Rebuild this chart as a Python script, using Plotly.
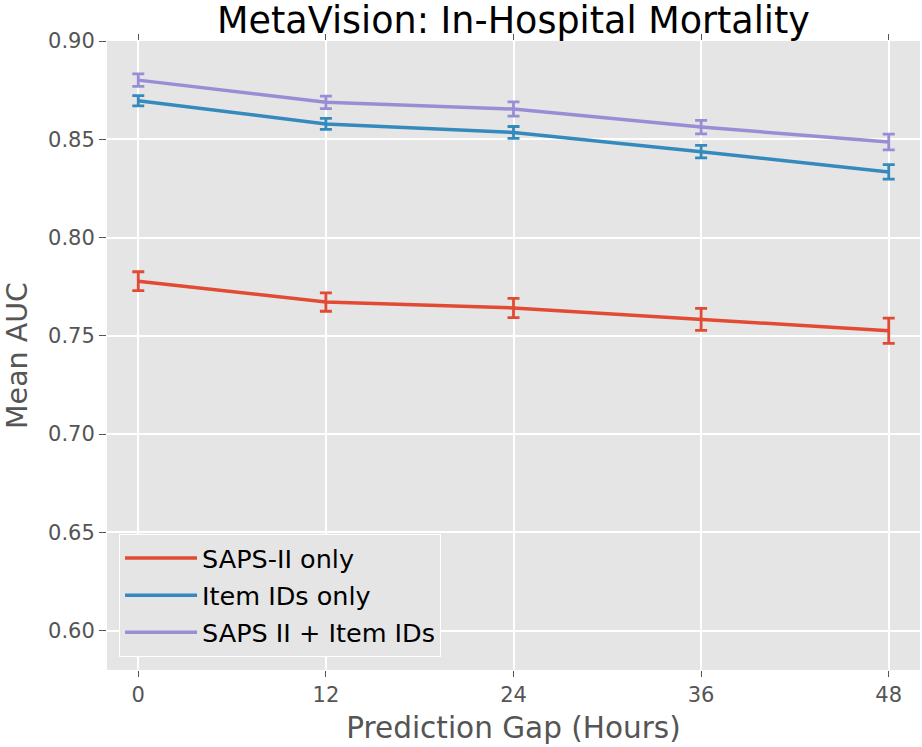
import plotly.graph_objects as go

hours = [0, 12, 24, 36, 48]
saps_only = [0.7778, 0.7672, 0.7642, 0.7584, 0.7526]
saps_only_err = [0.0048, 0.0047, 0.0049, 0.0056, 0.0064]
item_only = [0.8696, 0.8578, 0.8535, 0.8437, 0.8334]
item_only_err = [0.0026, 0.0028, 0.0030, 0.0032, 0.0037]
saps_item = [0.8801, 0.8688, 0.8654, 0.8562, 0.8486]
saps_item_err = [0.0032, 0.0032, 0.0036, 0.0034, 0.0040]

series = [
    ("SAPS-II only", saps_only, saps_only_err, "#E24A33"),
    ("Item IDs only", item_only, item_only_err, "#348ABD"),
    ("SAPS II + Item IDs", saps_item, saps_item_err, "#988ED5"),
]

x_ticks = [0, 12, 24, 36, 48]
y_ticks = [0.60, 0.65, 0.70, 0.75, 0.80, 0.85, 0.90]
y_tick_labels = ["0.60", "0.65", "0.70", "0.75", "0.80", "0.85", "0.90"]

fig = go.Figure()
for i, (name, vals, errs, color) in enumerate(series):
    fig.add_trace(go.Scatter(
        x=hours, y=vals, name=name, mode="lines", legendgroup="g%d" % i,
        line=dict(color=color, width=3.5),
        error_y=dict(type="data", array=errs, visible=True,
                     color=color, thickness=2.8, width=6),
    ))

font_family = "DejaVu Sans"
fig.update_layout(
    width=922, height=747,
    margin=dict(l=107, r=2, t=41, b=77),
    paper_bgcolor="white",
    plot_bgcolor="#E5E5E5",
    font=dict(family=font_family, color="#555555"),
    title=dict(text="MetaVision: In-Hospital Mortality",
               font=dict(size=36.5, color="black", family=font_family),
               x=0.5, xref="paper", xanchor="center",
               y=1 - 20 / 747, yref="container", yanchor="middle"),
    showlegend=True,
    legend=dict(
        x=0.0148, y=0.0207, xanchor="left", yanchor="bottom",
        xref="paper", yref="paper",
        bgcolor="#E5E5E5", bordercolor="white", borderwidth=1,
        font=dict(size=25.5, color="black", family=font_family),
        itemwidth=72, tracegroupgap=1,
    ),
)
fig.update_xaxes(
    range=[-2, 50], tickvals=x_ticks, ticktext=[str(t) for t in x_ticks],
    showgrid=True, gridcolor="white", gridwidth=1.5,
    zeroline=False,
    ticks="outside", ticklen=6, tickwidth=1, tickcolor="#555555",
    mirror="ticks", showline=True, linecolor="white", linewidth=1,
    tickfont=dict(size=21, color="#555555"),
    title=dict(text="Prediction Gap (Hours)", font=dict(size=29.5, color="#555555"),
               standoff=11),
)
fig.update_yaxes(
    range=[0.58, 0.90], tickvals=y_ticks, ticktext=y_tick_labels,
    showgrid=True, gridcolor="white", gridwidth=1.5,
    zeroline=False,
    ticks="outside", ticklen=7, tickwidth=1, tickcolor="#555555",
    tickfont=dict(size=21, color="#555555"),
    title=dict(text="Mean AUC", font=dict(size=28.5, color="#555555"),
               standoff=12),
)

fig.write_html("out.html")
